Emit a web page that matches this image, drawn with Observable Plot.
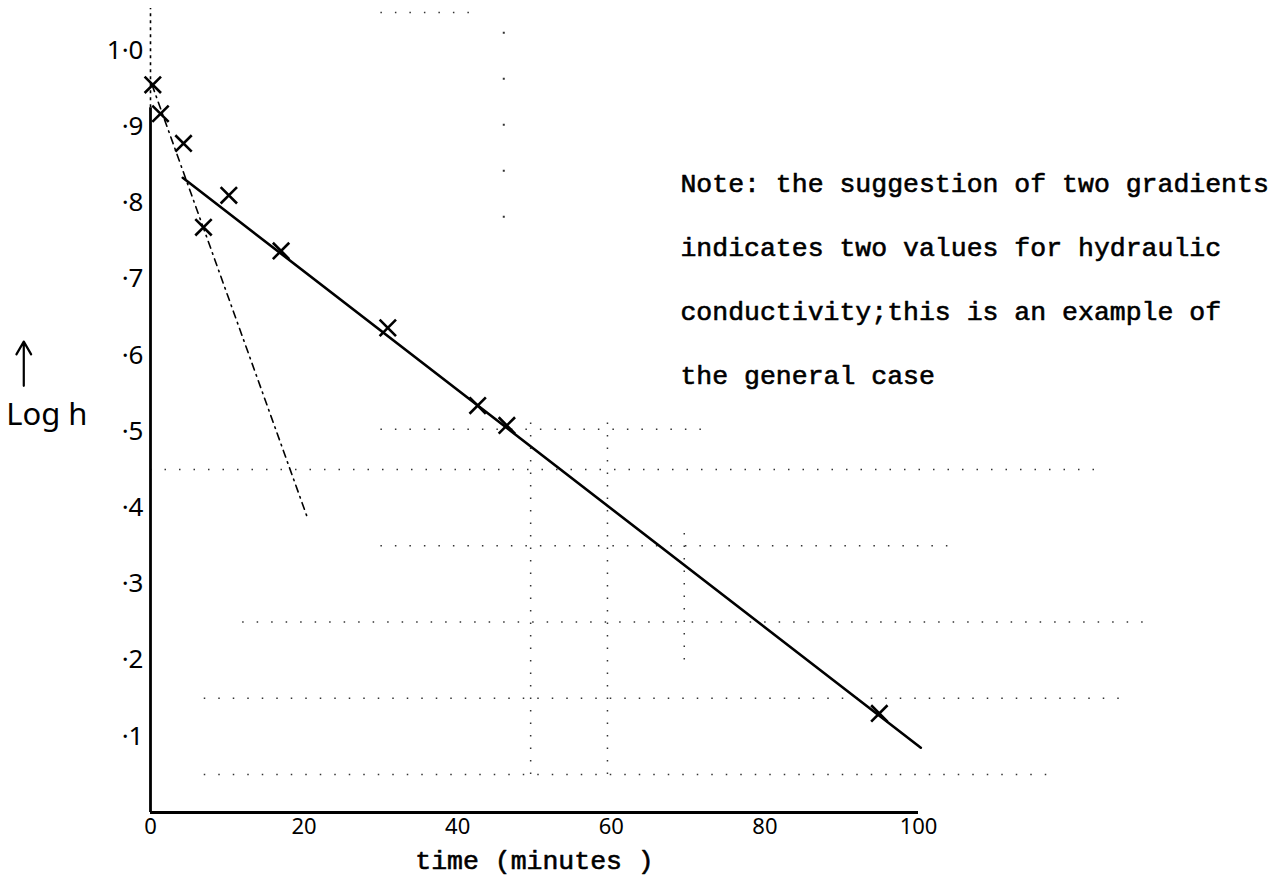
<!DOCTYPE html>
<html>
<head>
<meta charset="utf-8">
<script src="https://cdn.jsdelivr.net/npm/d3@7"></script>
<script src="https://cdn.jsdelivr.net/npm/@observablehq/plot@0.6"></script>
<style>
  html, body { margin: 0; padding: 0; background: #fff; }
  #chart svg { display: block; }
</style>
</head>
<body>
<div id="chart"></div>
<script>
// ---- data ----
const timeMin = [0.3, 1.3, 4.3, 6.9, 10.2, 17.0, 30.9, 42.6, 46.4, 94.9];
const logH    = [0.955, 0.917, 0.878, 0.768, 0.810, 0.737, 0.636, 0.534, 0.508, 0.130];

// fitted (shallow) gradient, solid
const fitT    = [4.2, 100.3];
const fitLogH = [0.833, 0.085];

// steep gradient, dash-dot
const steepT    = [0.2, 20.5];
const steepLogH = [0.955, 0.385];

const xTickValues = [0, 20, 40, 60, 80, 100];
const xTickLabels = ["0", "20", "40", "60", "80", "100"];
const yTickValues = [0.1, 0.2, 0.3, 0.4, 0.5, 0.6, 0.7, 0.8, 0.9, 1.0];
const yTickLabels = ["·1", "·2", "·3", "·4", "·5", "·6", "·7", "·8", "·9", "1·0"];

const xLabel = "time (minutes )";
const yLabel = "Log h";
const noteLines = [
  "Note: the suggestion of two gradients",
  "indicates two values for hydraulic",
  "conductivity;this is an example of",
  "the general case"
];
const noteLineLogH = [0.825, 0.741, 0.657, 0.573];
const noteStartT = 69;

// faint graph-paper dotted lines (scan residue)
const gridRowLogH = [0.503, 0.45, 0.35, 0.25, 0.15, 0.05, 1.05];
const gridRowFrom = [30, 0, 30, 12, 7, 7, 30];
const gridRowTo   = [72, 124, 105, 130, 127, 117, 42];
const gridColT    = [49.5, 59.5, 69.5];
const gridColFrom = [0.05, 0.05, 0.2];
const gridColTo   = [0.52, 0.52, 0.37];
const sparseColT    = [46];
const sparseColFrom = [0.78];
const sparseColTo   = [1.05];

// ---- build tables ----
const points = timeMin.map((t, i) => ({t, h: logH[i]}));
const fit = fitT.map((t, i) => ({t, h: fitLogH[i]}));
const steep = steepT.map((t, i) => ({t, h: steepLogH[i]}));
const xLab = new Map(xTickValues.map((v, i) => [v, xTickLabels[i]]));
const yLab = new Map(yTickValues.map((v, i) => [v, yTickLabels[i]]));
const rows = gridRowLogH.map((h, i) => ({h, a: gridRowFrom[i], b: gridRowTo[i]}));
const cols = gridColT.map((t, i) => ({t, a: gridColFrom[i], b: gridColTo[i]}));
const sparseCols = sparseColT.map((t, i) => ({t, a: sparseColFrom[i], b: sparseColTo[i]}));
const notes = noteLines.map((s, i) => ({s, h: noteLineLogH[i]}));

const hand = "'Noto Sans', 'DejaVu Sans', sans-serif";
const mono = "'Liberation Mono', 'DejaVu Sans Mono', monospace";

const chart = Plot.plot({
  width: 1278,
  height: 884,
  marginLeft: 150,
  marginRight: 360,
  marginTop: 50,
  marginBottom: 72,
  x: {domain: [0, 100]},
  y: {domain: [0, 1]},
  style: {background: "#fff", color: "#000"},
  marks: [
    // graph paper residue
    Plot.ruleY(rows, {y: "h", x1: "a", x2: "b", stroke: "#333", strokeWidth: 1.5, strokeDasharray: "1.5 13", clip: false}),
    Plot.ruleX(cols, {x: "t", y1: "a", y2: "b", stroke: "#333", strokeWidth: 1.5, strokeDasharray: "1.5 11", clip: false}),
    Plot.ruleX(sparseCols, {x: "t", y1: "a", y2: "b", stroke: "#333", strokeWidth: 2, strokeDasharray: "2 44", clip: false}),
    // axes
    Plot.axisX(xTickValues, {tickSize: 0, tickPadding: 6, tickFormat: d => xLab.get(d), fontSize: 22, fontFamily: hand, label: null}),
    Plot.axisY(yTickValues, {tickSize: 0, tickPadding: 7, tickFormat: d => yLab.get(d), fontSize: 26, fontFamily: hand, label: null}),
    Plot.ruleY([0], {x1: 0, x2: 100, stroke: "#000", strokeWidth: 2.8}),
    Plot.ruleX([0], {y1: 0, y2: 0.925, stroke: "#000", strokeWidth: 2.8}),
    Plot.ruleX([0], {y1: 0.925, y2: 1.055, stroke: "#000", strokeWidth: 1.6, strokeDasharray: "3 4", clip: false}),
    // gradients
    Plot.line(steep, {x: "t", y: "h", stroke: "#000", strokeWidth: 1.6, strokeDasharray: "7 5 1.5 5"}),
    Plot.line(fit, {x: "t", y: "h", stroke: "#000", strokeWidth: 2.6}),
    // observations
    Plot.dot(points, {x: "t", y: "h", symbol: "times", r: 7.5, stroke: "#000", strokeWidth: 2.6}),
    // labels
    Plot.text([xLabel], {x: 50, y: -0.063, text: d => d, fontFamily: mono, fontSize: 26.5, fill: "#000", stroke: "#000", strokeWidth: 0.6, clip: false}),
    Plot.text([yLabel], {x: -13.5, y: 0.522, text: d => d, fontFamily: hand, fontSize: 31, fill: "#000", clip: false}),
    Plot.arrow([yLabel], {x1: -16.5, y1: 0.56, x2: -16.5, y2: 0.618, stroke: "#000", strokeWidth: 2.2, headLength: 12, clip: false}),
    Plot.text(notes, {x: noteStartT, y: "h", text: "s", textAnchor: "start", fontFamily: mono, fontSize: 26.5, fill: "#000", stroke: "#000", strokeWidth: 0.6, clip: false})
  ]
});
document.getElementById("chart").append(chart);
</script>
</body>
</html>
